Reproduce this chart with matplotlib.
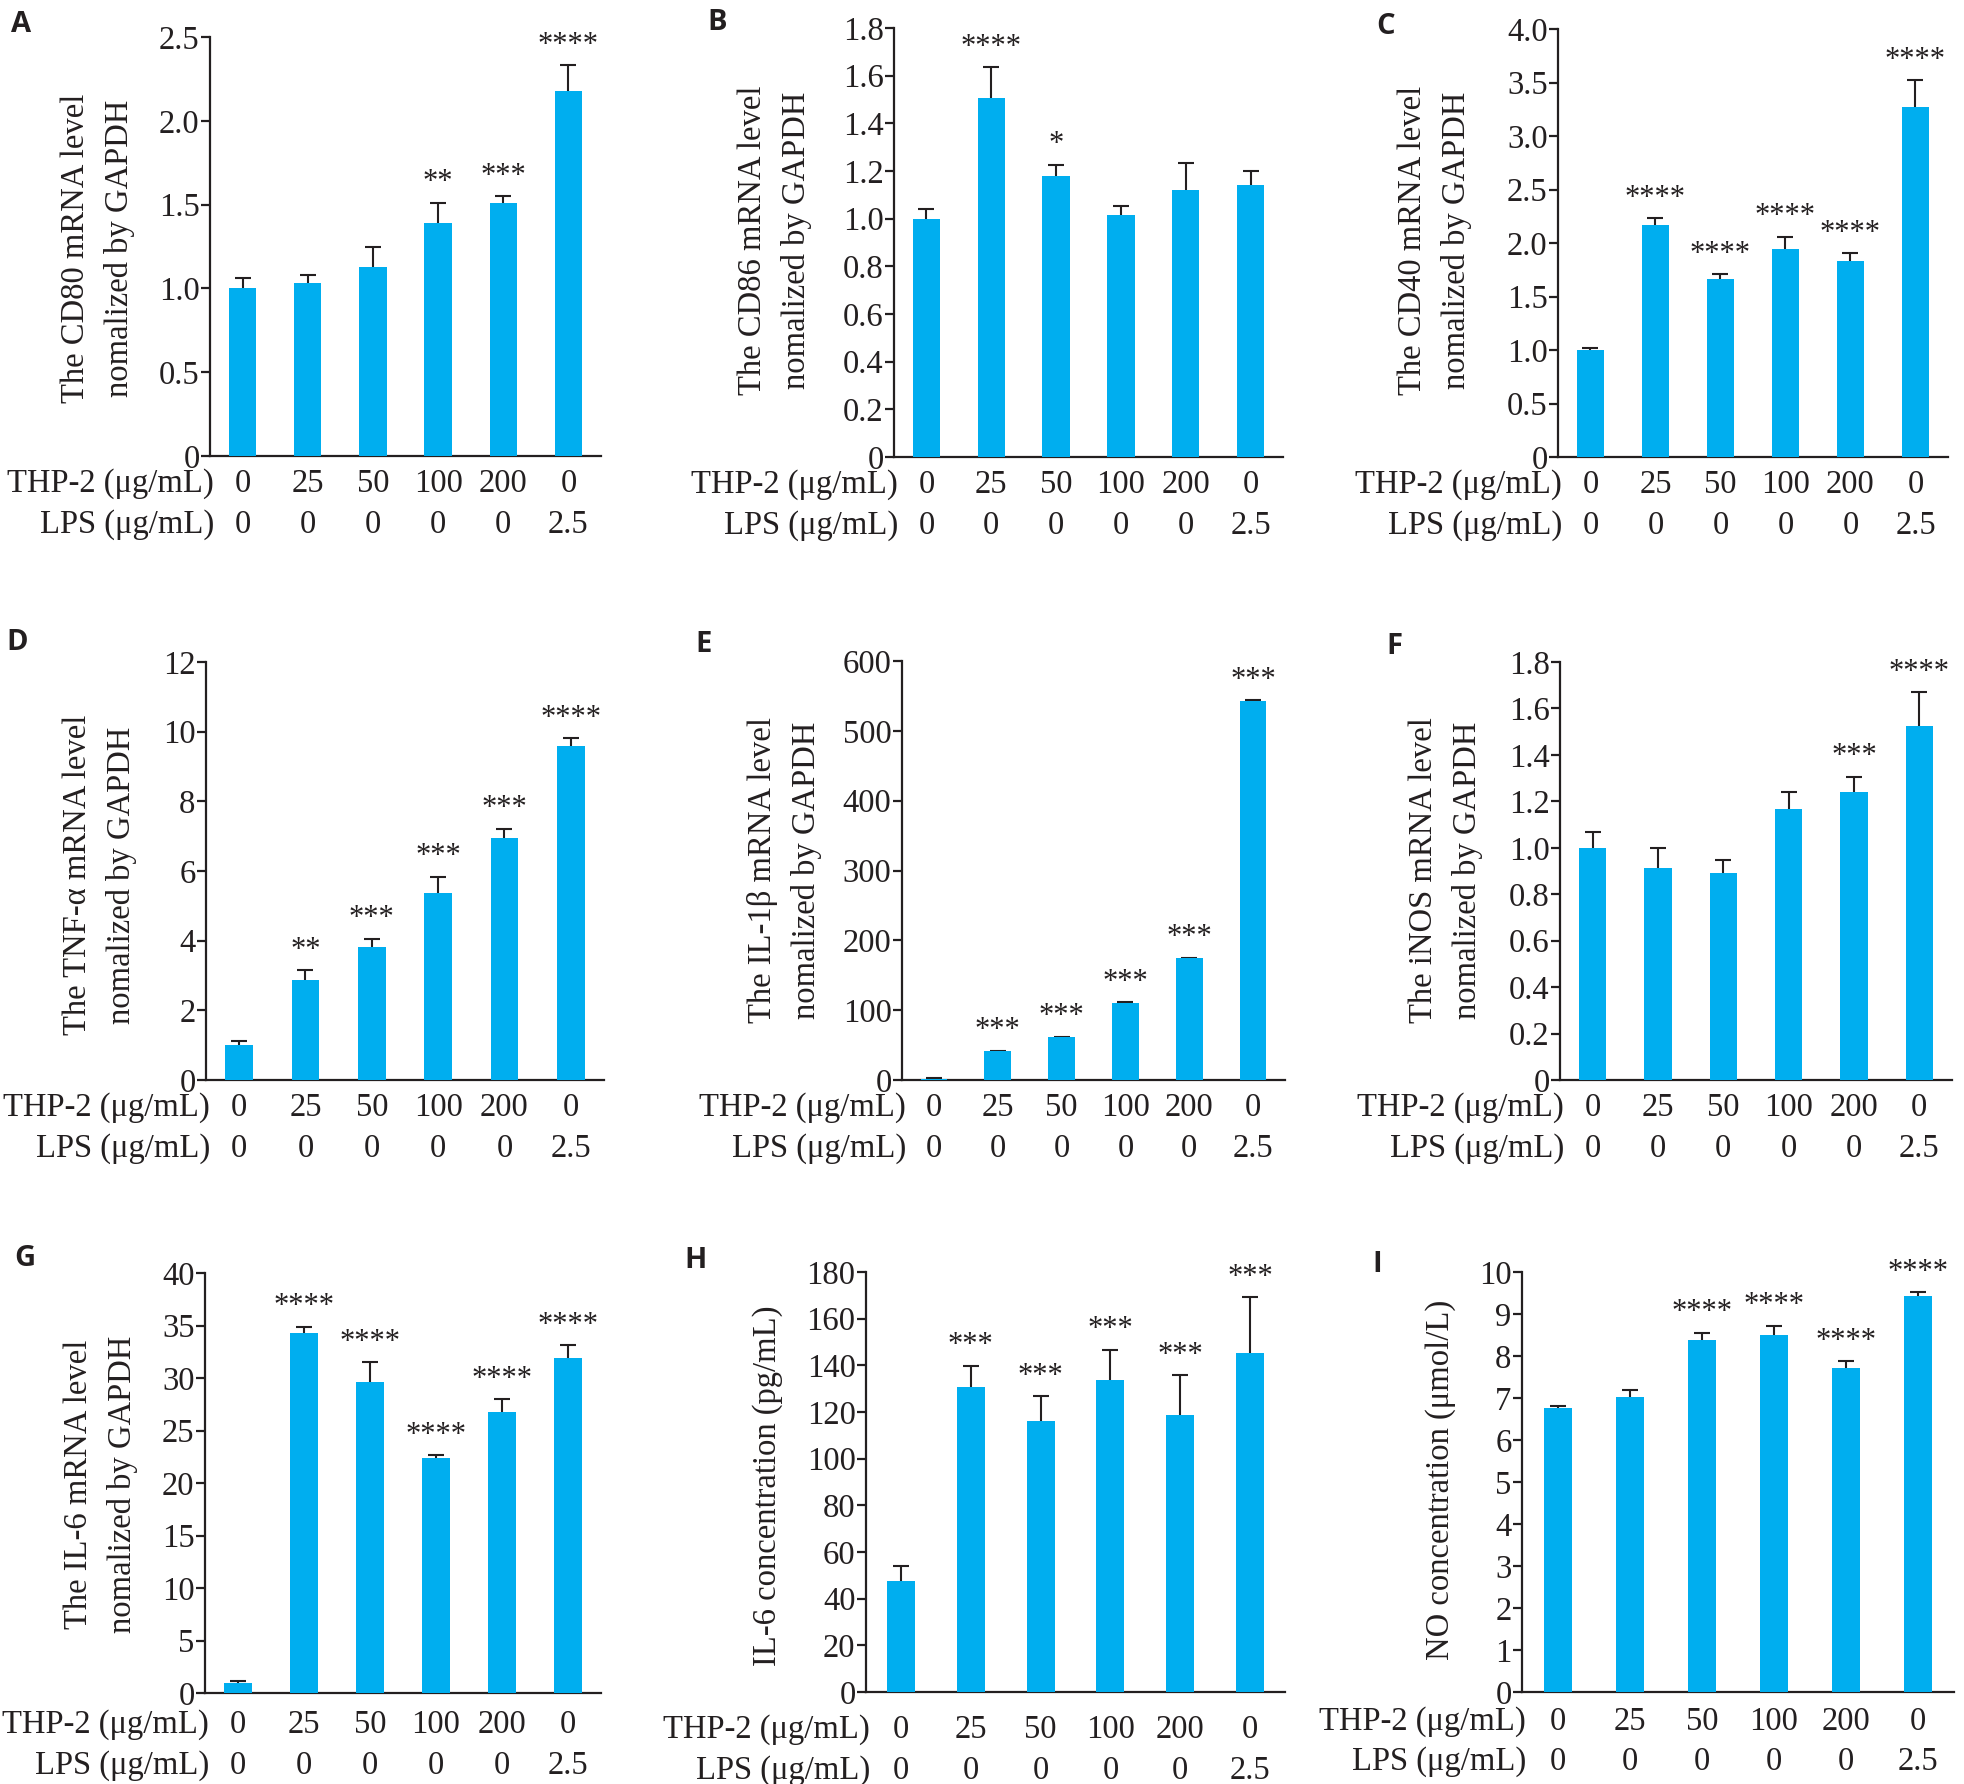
import numpy as np
import matplotlib.pyplot as plt

W, H = 1965, 1784

# doses shown under every panel
thp_doses = ['0', '25', '50', '100', '200', '0']
lps_doses = ['0', '0', '0', '0', '0', '2.5']

# A - CD80
cd80_mean = [1.00, 1.03, 1.13, 1.39, 1.51, 2.18]
cd80_err = [0.065, 0.05, 0.12, 0.12, 0.04, 0.15]
cd80_sig = ['', '', '', '**', '***', '****']
# B - CD86
cd86_mean = [1.00, 1.505, 1.18, 1.015, 1.12, 1.14]
cd86_err = [0.04, 0.13, 0.047, 0.04, 0.113, 0.06]
cd86_sig = ['', '****', '*', '', '', '']
# C - CD40
cd40_mean = [1.00, 2.17, 1.66, 1.94, 1.83, 3.27]
cd40_err = [0.02, 0.06, 0.05, 0.12, 0.075, 0.25]
cd40_sig = ['', '****', '****', '****', '****', '****']
# D - TNF-a
tnf_mean = [1.00, 2.86, 3.81, 5.36, 6.94, 9.58]
tnf_err = [0.13, 0.29, 0.24, 0.47, 0.27, 0.23]
tnf_sig = ['', '**', '***', '***', '***', '****']
# E - IL-1b
il1b_mean = [2, 41, 61, 110, 174, 543]
il1b_err = [0.8, 1, 1, 1, 1, 1]
il1b_sig = ['', '***', '***', '***', '***', '***']
# F - iNOS
inos_mean = [1.00, 0.915, 0.89, 1.167, 1.24, 1.526]
inos_err = [0.068, 0.082, 0.058, 0.072, 0.066, 0.144]
inos_sig = ['', '', '', '', '***', '****']
# G - IL-6 mRNA
il6_mean = [1.0, 34.25, 29.65, 22.4, 26.8, 31.9]
il6_err = [0.1, 0.65, 1.85, 0.25, 1.2, 1.2]
il6_sig = ['', '****', '****', '****', '****', '****']
# H - IL-6 protein
il6c_mean = [47.4, 130.8, 116.2, 133.8, 118.6, 145.2]
il6c_err = [6.8, 9.1, 10.6, 12.8, 17.2, 24.0]
il6c_sig = ['', '***', '***', '***', '***', '***']
# I - NO
no_mean = [6.76, 7.02, 8.39, 8.49, 7.72, 9.42]
no_err = [0.04, 0.17, 0.16, 0.23, 0.16, 0.10]
no_sig = ['', '', '****', '****', '****', '****']

BLUE = '#00AEEF'
INK = '#231F20'
FS = 23.5

plt.rcParams['font.family'] = ['Liberation Serif', 'DejaVu Serif']

fig = plt.figure(figsize=(W / 100, H / 100), dpi=100)


def fmt(v, step):
    if abs(v) < 1e-9:
        return '0'
    if step < 1:
        return f'{v:.1f}'
    return f'{v:.0f}'


def panel(letter, rect, mean, err, sig, ymax, step, ylabel, lab_xy, let_xy,
          rows=(36, 77), width=0.42):
    l, r, t, b = rect
    ax = fig.add_axes([l / W, 1 - b / H, (r - l) / W, (b - t) / H])
    x = np.arange(len(mean))
    ax.errorbar(x, mean, yerr=err, fmt='none', ecolor=INK, elinewidth=1.5,
                capsize=5.5, capthick=1.5, zorder=2)
    ax.bar(x, mean, width=width, color=BLUE, zorder=3)
    ax.set_xlim(-0.5, 5.5)
    ax.set_ylim(0, ymax)
    ticks = np.arange(0, ymax + step / 2, step)
    ax.set_yticks(ticks)
    ax.set_yticklabels([fmt(v, step) for v in ticks])
    ax.set_xticks([])
    for s in ['top', 'right']:
        ax.spines[s].set_visible(False)
    for s in ['left', 'bottom']:
        ax.spines[s].set_linewidth(1.6)
        ax.spines[s].set_color(INK)
    ax.tick_params(axis='y', direction='out', length=6.5, width=1.6,
                   pad=1, labelsize=FS, color=INK, labelcolor=INK)

    # significance stars
    for i, s in enumerate(sig):
        if s:
            ax.annotate(s, xy=(i, mean[i] + err[i]), xytext=(0, 9),
                        textcoords='offset points', ha='center',
                        va='baseline', fontsize=22, color=INK)

    # dose rows under the axis
    for i in range(len(mean)):
        ax.annotate(thp_doses[i], xy=(i, 0), xycoords=('data', 'axes fraction'),
                    xytext=(0, -rows[0] * 0.72), textcoords='offset points',
                    ha='center', va='baseline', fontsize=FS, color=INK,
                    annotation_clip=False)
        ax.annotate(lps_doses[i], xy=(i, 0), xycoords=('data', 'axes fraction'),
                    xytext=(0, -rows[1] * 0.72), textcoords='offset points',
                    ha='center', va='baseline', fontsize=FS, color=INK,
                    annotation_clip=False)
    ax.annotate('THP-2 (μg/mL)', xy=(0, 0), xycoords='axes fraction',
                xytext=(3, -rows[0] * 0.72), textcoords='offset points',
                ha='right', va='baseline', fontsize=FS, color=INK)
    ax.annotate('LPS (μg/mL)', xy=(0, 0), xycoords='axes fraction',
                xytext=(3, -rows[1] * 0.72), textcoords='offset points',
                ha='right', va='baseline', fontsize=FS, color=INK)

    # y label, one text per line, 44 px apart
    lines = ylabel.split('\n')
    n = len(lines)
    for k, line in enumerate(lines):
        xc = lab_xy[0] + (k - (n - 1) / 2) * 44
        fig.text(xc / W, 1 - lab_xy[1] / H, line, rotation=90,
                 ha='center', va='center', fontsize=FS, color=INK)
    fig.text(let_xy[0] / W, 1 - let_xy[1] / H, letter, family='Open Sans',
             fontweight='bold', fontsize=21, ha='center', va='center',
             color=INK)
    return ax


panel('A', (210, 601, 37, 456), cd80_mean, cd80_err, cd80_sig, 2.5, 0.5,
      'The CD80 mRNA level\nnomalized by GAPDH', (98, 248), (21, 25))
panel('B', (894, 1283, 28, 457), cd86_mean, cd86_err, cd86_sig, 1.8, 0.2,
      'The CD86 mRNA level\nnomalized by GAPDH', (775, 240), (717, 23))
panel('C', (1558, 1948, 29, 457), cd40_mean, cd40_err, cd40_sig, 4.0, 0.5,
      'The CD40 mRNA level\nnomalized by GAPDH', (1435, 240), (1386, 27))
panel('D', (206, 604, 662, 1080), tnf_mean, tnf_err, tnf_sig, 12, 2,
      'The TNF-α mRNA level\nnomalized by GAPDH', (100, 875), (17, 643))
panel('E', (902, 1285, 661, 1080), il1b_mean, il1b_err, il1b_sig, 600, 100,
      'The IL-1β mRNA level\nnomalized by GAPDH', (785, 870), (704, 645))
panel('F', (1560, 1952, 662, 1080), inos_mean, inos_err, inos_sig, 1.8, 0.2,
      'The iNOS mRNA level\nnomalized by GAPDH', (1446, 870), (1394, 647))
panel('G', (205, 601, 1273, 1693), il6_mean, il6_err, il6_sig, 40, 5,
      'The IL-6 mRNA level\nnomalized by GAPDH', (101, 1484), (25, 1258),
      rows=(40, 81))
panel('H', (866, 1285, 1272, 1692), il6c_mean, il6c_err, il6c_sig, 180, 20,
      'IL-6 concentration (pg/mL)', (768, 1486), (696, 1260),
      rows=(46, 87), width=0.4)
panel('I', (1522, 1954, 1272, 1692), no_mean, no_err, no_sig, 10, 1,
      'NO concentration (μmol/L)', (1441, 1480), (1377, 1265),
      rows=(38, 78), width=0.4)

fig.savefig('out.png', dpi=100, facecolor='white')
